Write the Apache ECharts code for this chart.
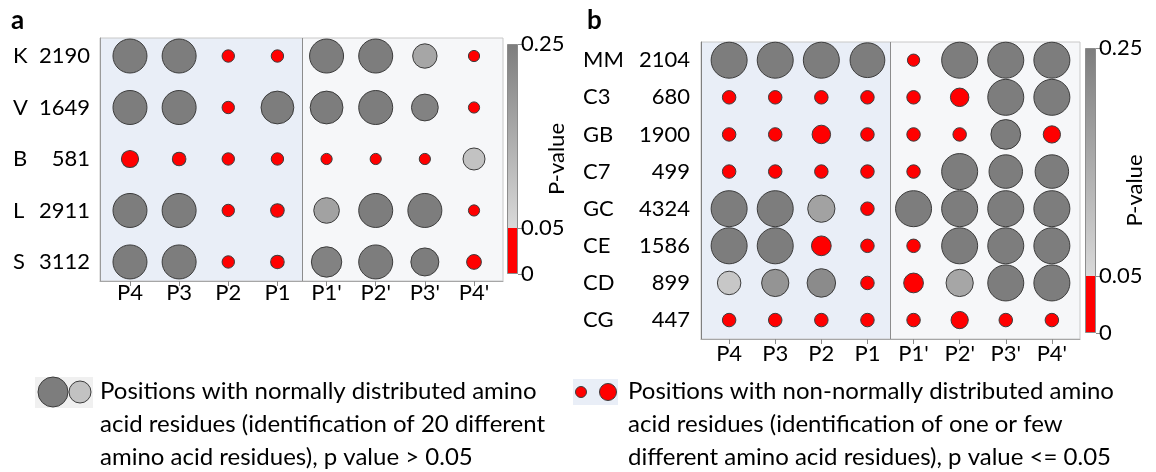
<!DOCTYPE html>
<html>
<head>
<meta charset="utf-8">
<script src="https://cdn.jsdelivr.net/npm/echarts@6/dist/echarts.min.js"></script>
<style>
  html, body { margin: 0; padding: 0; background: #ffffff; }
  #chart { width: 1156px; height: 472px; }
</style>
</head>
<body>
<div id="chart"></div>
<script>
// Cleavage-site positions (columns, both panels)
const positions = ['P4', 'P3', 'P2', 'P1', "P1'", "P2'", "P3'", "P4'"];

// Panel a: groups, number of sequences, p-values and distinct residue counts
const groupsA = ['K', 'V', 'B', 'L', 'S'];
const countsA = [2190, 1649, 581, 2911, 3112];
const pValuesA = [
  [0.25, 0.25, 0.01, 0.01, 0.25, 0.25, 0.16, 0.01],
  [0.25, 0.25, 0.01, 0.25, 0.25, 0.25, 0.24, 0.01],
  [0.02, 0.01, 0.01, 0.01, 0.01, 0.01, 0.01, 0.10],
  [0.25, 0.25, 0.01, 0.03, 0.17, 0.25, 0.25, 0.01],
  [0.25, 0.25, 0.01, 0.02, 0.24, 0.25, 0.25, 0.03]
];
const residuesA = [
  [20, 20, 2, 2, 20, 20, 12, 1],
  [20, 20, 2, 19, 19, 20, 14, 1],
  [6, 3, 2, 2, 1, 1, 1, 10],
  [20, 20, 2, 3, 13, 20, 20, 1],
  [20, 20, 2, 3, 17, 20, 15, 4]
];

// Panel b
const groupsB = ['MM', 'C3', 'GB', 'C7', 'GC', 'CE', 'CD', 'CG'];
const countsB = [2104, 680, 1900, 499, 4324, 1586, 899, 447];
const pValuesB = [
  [0.25, 0.25, 0.25, 0.25, 0.01, 0.25, 0.25, 0.25],
  [0.01, 0.01, 0.01, 0.01, 0.01, 0.02, 0.25, 0.25],
  [0.01, 0.01, 0.02, 0.01, 0.01, 0.01, 0.25, 0.02],
  [0.01, 0.01, 0.01, 0.01, 0.01, 0.25, 0.25, 0.25],
  [0.25, 0.25, 0.17, 0.01, 0.25, 0.25, 0.25, 0.25],
  [0.25, 0.25, 0.02, 0.01, 0.01, 0.25, 0.25, 0.25],
  [0.09, 0.20, 0.22, 0.01, 0.03, 0.16, 0.25, 0.25],
  [0.01, 0.01, 0.01, 0.01, 0.01, 0.02, 0.01, 0.01]
];
const residuesB = [
  [20, 20, 20, 19, 1, 20, 20, 20],
  [2, 2, 2, 2, 2, 6, 20, 20],
  [2, 2, 6, 2, 2, 2, 15, 5],
  [2, 2, 2, 2, 2, 20, 18, 18],
  [20, 20, 13, 2, 20, 20, 20, 20],
  [20, 20, 7, 2, 2, 20, 20, 20],
  [10, 13, 14, 2, 7, 13, 20, 20],
  [2, 2, 2, 2, 2, 5, 2, 2]
];

// Colour scale ticks
const pTicks = [0, 0.05, 0.25];
const P_CUT = 0.05;
const P_MAX = 0.25;

const legendLeft = [
  'Positions with normally distributed amino',
  'acid residues (identification of 20 different',
  'amino acid residues), p value > 0.05'
];
const legendRight = [
  'Positions with non-normally distributed amino',
  'acid residues (identification of one or few',
  'different amino acid residues), p value <= 0.05'
];

// ---- styling helpers ----
const FONT = 'Lato';
const RED = '#ff0000';
const LIGHT = [217, 217, 217];
const DARK = [125, 125, 125];

function pColor(p) {
  if (p <= P_CUT) return RED;
  const t = Math.min(1, (p - P_CUT) / (P_MAX - P_CUT));
  const c = LIGHT.map((l, i) => Math.round(l + (DARK[i] - l) * t));
  return 'rgb(' + c.join(',') + ')';
}

function barGradient() {
  const cut = (P_MAX - P_CUT) / P_MAX;
  return new echarts.graphic.LinearGradient(0, 0, 0, 1, [
    { offset: 0, color: 'rgb(' + DARK.join(',') + ')' },
    { offset: cut, color: 'rgb(' + LIGHT.join(',') + ')' },
    { offset: cut, color: RED },
    { offset: 1, color: RED }
  ]);
}

function cells(pv, rv) {
  const out = [];
  pv.forEach((row, r) => row.forEach((p, c) => out.push([c, r, p, rv[r][c]])));
  return out;
}

const colIdx = positions.map((_, i) => i);

function panel(cfg) {
  const g = cfg.gridBase;
  const rowIdx = cfg.groups.map((_, i) => i);
  const xAxes = [
    {
      type: 'value', gridIndex: g, min: cfg.xMin, max: cfg.xMax, z: 5,
      splitLine: { show: false },
      axisLine: { show: true, onZero: false, lineStyle: { color: '#a6a6a6', width: 1 } },
      axisTick: { show: true, customValues: colIdx, length: 5, lineStyle: { color: '#8c8c8c' } },
      axisLabel: {
        customValues: colIdx, formatter: v => positions[v], margin: cfg.xMargin,
        fontSize: 22, fontFamily: FONT, color: '#000'
      }
    },
    { type: 'category', gridIndex: g + 1, data: [''], show: false }
  ];
  const yAxes = [
    {
      type: 'value', gridIndex: g, inverse: true, min: cfg.yMin, max: cfg.yMax, z: 5,
      splitLine: { show: false },
      axisLine: { show: true, onZero: false, lineStyle: { color: cfg.leftColor, width: 1 } },
      axisTick: { show: false },
      axisLabel: {
        customValues: rowIdx, margin: cfg.yMargin,
        formatter: v => '{c|' + cfg.groups[v] + '}{n|' + cfg.counts[v] + '}',
        rich: {
          c: { width: cfg.codeWidth, align: 'left', fontSize: 22, fontFamily: FONT, color: '#000' },
          n: { width: 52, align: 'right', fontSize: 22, fontFamily: FONT, color: '#000' }
        }
      }
    },
    {
      type: 'value', gridIndex: g + 1, position: 'right', min: 0, max: P_MAX,
      splitLine: { show: false },
      axisLine: { show: false },
      axisTick: { show: true, customValues: pTicks, length: 6, lineStyle: { color: '#8c8c8c' } },
      axisLabel: {
        customValues: pTicks, formatter: v => String(v), margin: 3,
        fontSize: 22, fontFamily: FONT, color: '#000'
      },
      name: 'P-value', nameLocation: 'middle', nameRotate: 90, nameGap: 28,
      nameMoveOverlap: false,
      nameTextStyle: { fontSize: 22, fontFamily: FONT, color: '#000' }
    }
  ];
  const series = [
    {
      // shaded halves of the plot and the P1 | P1' separator
      type: 'scatter', xAxisIndex: g, yAxisIndex: g, data: [], silent: true, z: 1,
      markArea: {
        silent: true,
        data: [
          [{ xAxis: cfg.xMin, yAxis: cfg.yMin, itemStyle: { color: '#e9eef7' } }, { xAxis: 3.5, yAxis: cfg.yMax }],
          [{ xAxis: 3.5, yAxis: cfg.yMin, itemStyle: { color: '#f6f7f9' } }, { xAxis: cfg.xMax, yAxis: cfg.yMax }]
        ]
      },
      markLine: {
        silent: true, symbol: 'none', label: { show: false },
        lineStyle: { color: '#8c8c8c', width: 1, type: 'solid' },
        data: [{ xAxis: 3.5 }]
      }
    },
    {
      type: 'scatter', xAxisIndex: g, yAxisIndex: g, z: 4,
      data: cells(cfg.pValues, cfg.residues),
      symbolSize: v => cfg.sizeBase + cfg.sizeStep * v[3],
      itemStyle: {
        color: p => pColor(p.value[2]),
        borderColor: '#3c3c3c', borderWidth: 1, opacity: 1
      }
    },
    {
      type: 'bar', xAxisIndex: g + 1, yAxisIndex: g + 1, data: [P_MAX], barWidth: '100%',
      silent: true,
      itemStyle: { color: barGradient(), borderColor: '#8c8c8c', borderWidth: 1 }
    }
  ];
  return { xAxes, yAxes, series };
}

const pa = panel({
  gridBase: 0, groups: groupsA, counts: countsA, pValues: pValuesA, residues: residuesA,
  xMin: -0.61, xMax: 7.59, yMin: -0.35, yMax: 4.37, xMargin: 1, yMargin: 10,
  codeWidth: 25, leftColor: '#9a9a9a', sizeBase: 10, sizeStep: 1.2
});
const pb = panel({
  gridBase: 2, groups: groupsB, counts: countsB, pValues: pValuesB, residues: residuesB,
  xMin: -0.61, xMax: 7.61, yMin: -0.49, yMax: 7.51, xMargin: 4, yMargin: 11,
  codeWidth: 55, leftColor: '#7f7f7f', sizeBase: 11, sizeStep: 1.25
});

const textStyle = { fontSize: 24, fontFamily: FONT, fill: '#000', lineHeight: 33 };
const gridCommon = { outerBoundsMode: 'none', containLabel: false };

const option = {
  animation: false,
  backgroundColor: '#ffffff',
  grid: [
    Object.assign({ left: 100, top: 38, width: 403, height: 243, show: true, z: 3, borderColor: '#c8c8c8', borderWidth: 1, backgroundColor: 'transparent' }, gridCommon),
    Object.assign({ left: 507, top: 44, width: 11, height: 230 }, gridCommon),
    Object.assign({ left: 701, top: 42, width: 379, height: 297, show: true, z: 3, borderColor: '#c8c8c8', borderWidth: 1, backgroundColor: 'transparent' }, gridCommon),
    Object.assign({ left: 1085, top: 48, width: 11, height: 285 }, gridCommon)
  ],
  xAxis: pa.xAxes.concat(pb.xAxes),
  yAxis: pa.yAxes.concat(pb.yAxes),
  series: pa.series.concat(pb.series),
  graphic: [
    { type: 'text', left: 11, top: 8, style: { text: 'a', fontSize: 26, fontWeight: 'bold', fontFamily: FONT, fill: '#000' } },
    { type: 'text', left: 587, top: 8, style: { text: 'b', fontSize: 26, fontWeight: 'bold', fontFamily: FONT, fill: '#000' } },
    // legend keys
    { type: 'rect', shape: { x: 35, y: 377, width: 58, height: 31 }, style: { fill: '#f0f0f0' } },
    { type: 'circle', shape: { cx: 53, cy: 392, r: 15 }, style: { fill: pColor(P_MAX), stroke: '#3c3c3c', lineWidth: 1 } },
    { type: 'circle', shape: { cx: 80, cy: 392, r: 11 }, style: { fill: pColor(0.10), stroke: '#3c3c3c', lineWidth: 1 } },
    { type: 'rect', shape: { x: 573, y: 379, width: 45, height: 26 }, style: { fill: '#e9eef7' } },
    { type: 'circle', shape: { cx: 581, cy: 392, r: 5.5 }, style: { fill: RED, stroke: '#3c3c3c', lineWidth: 1 } },
    { type: 'circle', shape: { cx: 608, cy: 392, r: 8.5 }, style: { fill: RED, stroke: '#3c3c3c', lineWidth: 1 } },
    { type: 'text', left: 100, top: 375, style: Object.assign({ text: legendLeft.join('\n') }, textStyle) },
    { type: 'text', left: 628, top: 375, style: Object.assign({ text: legendRight.join('\n') }, textStyle) }
  ]
};

const chart = echarts.init(document.getElementById('chart'), null, { renderer: 'canvas' });
chart.setOption(option);
</script>
</body>
</html>
